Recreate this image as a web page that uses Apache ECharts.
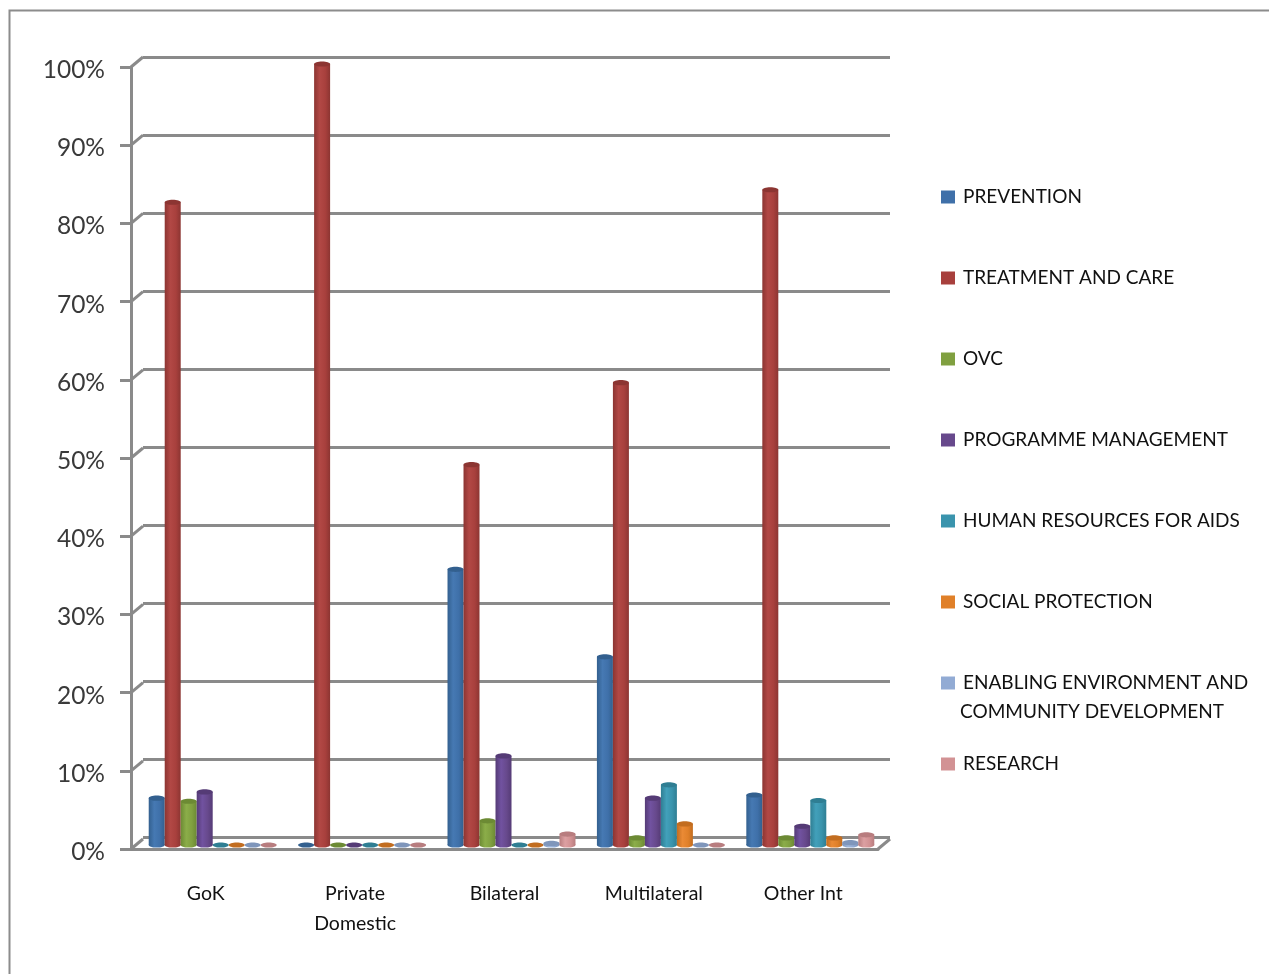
<!DOCTYPE html>
<html>
<head>
<meta charset="utf-8">
<style>html,body{margin:0;padding:0;background:#fff}#chart{width:1269px;height:974px}</style>
<script src="https://cdn.jsdelivr.net/npm/echarts@6/dist/echarts.min.js"></script>
</head>
<body>
<div id="chart"></div>
<script>
const categories = ['GoK', 'Private\nDomestic', 'Bilateral', 'Multilateral', 'Other Int'];
const percentTicks = [0, 10, 20, 30, 40, 50, 60, 70, 80, 90, 100];

const prevention = [6.0, 0, 35.3, 24.1, 6.4];
const treatmentAndCare = [82.3, 100, 48.7, 59.2, 83.9];
const ovc = [5.6, 0, 3.1, 0.9, 0.9];
const programmeManagement = [6.8, 0, 11.4, 6.0, 2.4];
const humanResources = [0, 0, 0, 7.7, 5.7];
const socialProtection = [0, 0, 0, 2.7, 0.9];
const enablingEnvironment = [0, 0, 0.2, 0, 0.3];
const research = [0, 0, 1.4, 0, 1.3];

const seriesNames = [
  'PREVENTION', 'TREATMENT AND CARE', 'OVC', 'PROGRAMME MANAGEMENT',
  'HUMAN RESOURCES FOR AIDS', 'SOCIAL PROTECTION',
  'ENABLING ENVIRONMENT AND COMMUNITY DEVELOPMENT', 'RESEARCH'
];
const seriesValues = [
  prevention, treatmentAndCare, ovc, programmeManagement,
  humanResources, socialProtection, enablingEnvironment, research
];
const seriesColors = ['#3f70a9', '#a8403d', '#80a040', '#67498c', '#3a94ad', '#e08029', '#92abd4', '#d29294'];
const seriesShades = ['#33608f', '#8c3532', '#6c8a34', '#553b76', '#2f7e93', '#c26d20', '#7f96bb', '#b87d7f'];
const seriesLights = ['#4679b3', '#b24845', '#8bad49', '#7152a0', '#42a0ba', '#ea8a35', '#a0b8dc', '#dca0a2'];

const wallColor = '#8a8a8a';
const labelFont = 'Lato';
const depth = { x: 12, y: -10 };
const slotsPerGroup = 9.34;

// Cylinder: shaded body, darker top cap; zero values leave only a flat disc.
function cylinder(seriesIndex) {
  return function (params, api) {
    const cat = api.value(0);
    const val = api.value(1);
    const band = api.size([1, 0])[0];
    const w = band / slotsPerGroup;
    const center = api.coord([cat, val]);
    const base = api.coord([cat, 0]);
    const cx = center[0] + (seriesIndex - 3.5) * w;
    const rx = w / 2;
    const ry = 2.6;
    if (val === 0) {
      return {
        type: 'ellipse',
        shape: { cx: cx, cy: base[1], rx: rx, ry: ry },
        style: { fill: seriesShades[seriesIndex] }
      };
    }
    const body = new echarts.graphic.LinearGradient(0, 0, 1, 0, [
      { offset: 0, color: seriesShades[seriesIndex] },
      { offset: 0.35, color: seriesLights[seriesIndex] },
      { offset: 0.7, color: seriesColors[seriesIndex] },
      { offset: 1, color: seriesShades[seriesIndex] }
    ]);
    return {
      type: 'group',
      children: [
        { type: 'ellipse', shape: { cx: cx, cy: base[1], rx: rx, ry: ry }, style: { fill: body } },
        { type: 'rect', shape: { x: cx - rx, y: center[1], width: w, height: base[1] - center[1] }, style: { fill: body } },
        { type: 'ellipse', shape: { cx: cx, cy: center[1], rx: rx, ry: ry }, style: { fill: seriesShades[seriesIndex] } }
      ]
    };
  };
}

const barSeries = seriesNames.map(function (name, s) {
  return {
    name: name,
    type: 'custom',
    coordinateSystem: 'cartesian2d',
    xAxisIndex: 2,
    yAxisIndex: 2,
    clip: false,
    z: 5 + s,
    itemStyle: { color: seriesColors[s] },
    renderItem: cylinder(s),
    encode: { x: 0, y: 1 },
    data: seriesValues[s].map(function (v, c) { return [c, v]; })
  };
});

// Short diagonals joining the front axes to the back wall.
const wallDiagonals = {
  type: 'custom',
  coordinateSystem: 'cartesian2d',
  xAxisIndex: 0,
  yAxisIndex: 0,
  clip: false,
  silent: true,
  z: 2,
  encode: { y: 0 },
  data: percentTicks.map(function (t) { return [t]; }),
  renderItem: function (params, api) {
    const y = api.coord([0, api.value(0)])[1];
    const x = params.coordSys.x;
    const lineStyle = { stroke: wallColor, lineWidth: 3, fill: null };
    const children = [{
      type: 'line',
      shape: { x1: x, y1: y, x2: x + depth.x, y2: y + depth.y },
      style: lineStyle
    }];
    if (api.value(0) === 0) {
      const xr = x + params.coordSys.width;
      children.push({
        type: 'line',
        shape: { x1: xr, y1: y, x2: xr + depth.x, y2: y + depth.y },
        style: lineStyle
      });
    }
    return { type: 'group', children: children };
  }
};

const chart = echarts.init(document.getElementById('chart'), null, { renderer: 'canvas' });
chart.setOption({
  backgroundColor: '#ffffff',
  animation: false,
  grid: [
    { left: 131, top: 67, width: 747, height: 782 },
    { left: 143, top: 57, width: 747, height: 780 },
    { left: 138, top: 64, width: 747, height: 781 }
  ],
  xAxis: [
    {
      gridIndex: 0,
      type: 'category',
      data: categories,
      axisLine: { lineStyle: { color: wallColor, width: 3 } },
      axisTick: { alignWithLabel: false, length: 10, lineStyle: { color: wallColor, width: 3 } },
      axisLabel: {
        margin: 30,
        interval: 0,
        fontFamily: labelFont,
        fontSize: 19.5,
        lineHeight: 30,
        color: '#111111'
      }
    },
    { gridIndex: 1, type: 'category', data: categories, show: false },
    { gridIndex: 2, type: 'category', data: categories, show: false }
  ],
  yAxis: [
    {
      gridIndex: 0,
      type: 'value',
      min: 0,
      max: 100,
      interval: 10,
      axisLine: { show: true, lineStyle: { color: wallColor, width: 3 } },
      axisTick: { show: true, length: 11, lineStyle: { color: wallColor, width: 3 } },
      splitLine: { show: false },
      axisLabel: {
        margin: 26,
        formatter: '{value}%',
        fontFamily: labelFont,
        fontSize: 24.5,
        verticalAlign: 'top',
        lineHeight: 6,
        color: '#3a3a3a'
      }
    },
    {
      gridIndex: 1,
      type: 'value',
      min: 0,
      max: 100,
      interval: 10,
      axisLine: { show: false },
      axisTick: { show: false },
      axisLabel: { show: false },
      splitLine: { show: true, lineStyle: { color: wallColor, width: 3 } }
    },
    { gridIndex: 2, type: 'value', min: 0, max: 100, interval: 10, show: false, splitLine: { show: false } }
  ],
  legend: {
    orient: 'vertical',
    left: 941,
    top: 186,
    padding: 0,
    itemWidth: 14,
    itemHeight: 13,
    itemGap: 59,
    icon: 'rect',
    data: seriesNames,
    formatter: function (name) {
      return name.replace(' COMMUNITY DEVELOPMENT', '');
    },
    textStyle: {
      fontFamily: labelFont,
      fontSize: 19,
      lineHeight: 22,
      color: '#111111',
      padding: [0, 0, 0, 3]
    }
  },
  graphic: [
    {
      type: 'rect',
      silent: true,
      z: -1,
      shape: { x: 9.5, y: 10.5, width: 1400, height: 1100 },
      style: { fill: '#ffffff', stroke: '#8c8c8c', lineWidth: 2 }
    },
    {
      type: 'text',
      left: 960,
      top: 702,
      silent: true,
      style: {
        text: 'COMMUNITY DEVELOPMENT',
        font: '19px Lato',
        fill: '#111111'
      }
    }
  ],
  series: [wallDiagonals].concat(barSeries)
});
</script>
</body>
</html>
